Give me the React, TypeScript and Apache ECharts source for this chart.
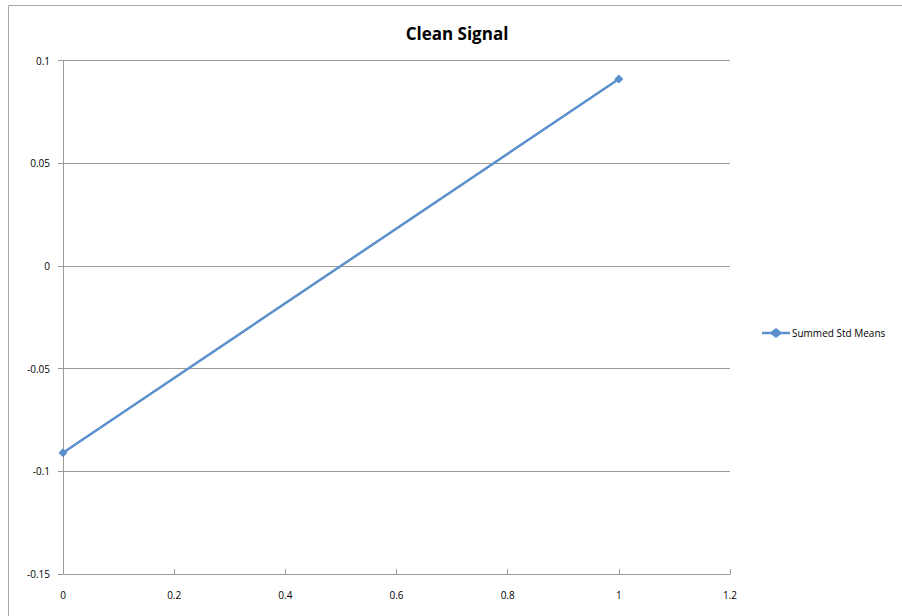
import React, { useEffect, useRef } from "react";
import * as echarts from "echarts";

const seriesName = "Summed Std Means";
const xValues = [0, 1];
const yValues = [-0.091, 0.091];
const titleText = "Clean Signal";

export default function App() {
  const ref = useRef<HTMLDivElement>(null);
  useEffect(() => {
    document.body.style.margin = "0";
    const chart = echarts.init(ref.current!, null, { renderer: "svg" });
    const font = "'Open Sans', 'Liberation Sans', sans-serif";
    const lineColor = "#5b8fcb";
    chart.setOption({
      animation: false,
      backgroundColor: "#ffffff",
      title: {
        text: titleText,
        left: 452,
        top: 20,
        textAlign: "center",
        textStyle: { fontFamily: font, fontSize: 17, fontWeight: "bold", color: "#000" },
      },
      graphic: [
        {
          type: "rect",
          shape: { x: 8.5, y: 5.5, width: 900, height: 620 },
          style: { fill: "none", stroke: "#a6a6a6", lineWidth: 1 },
          silent: true,
        },
      ],
      legend: {
        show: true,
        orient: "vertical",
        left: 757,
        top: 323,
        itemWidth: 28,
        itemHeight: 10,
        textStyle: { fontFamily: font, fontSize: 10, color: "#000", padding: [0, 0, 0, -3] },
        data: [
          {
            name: seriesName,
            icon: "path://M0,3.8 L9,3.8 L14,0 L19,3.8 L28,3.8 L28,6.2 L19,6.2 L14,10 L9,6.2 L0,6.2 Z",
            itemStyle: { color: lineColor },
          },
        ],
      },
      grid: { left: 63, right: 172, top: 60.5, bottom: 42, containLabel: false },
      xAxis: {
        type: "value",
        min: 0,
        max: 1.2,
        interval: 0.2,
        axisLine: { show: true, onZero: false, lineStyle: { color: "#9a9a9a", width: 1 } },
        axisTick: { show: true, inside: true, length: 5, lineStyle: { color: "#9a9a9a" } },
        splitLine: { show: false },
        axisLabel: { fontFamily: font, fontSize: 10, color: "#000", margin: 16 },
      },
      yAxis: {
        type: "value",
        min: -0.15,
        max: 0.1,
        interval: 0.05,
        axisLine: { show: true, onZero: false, lineStyle: { color: "#9a9a9a", width: 1 } },
        axisTick: { show: true, length: 5, lineStyle: { color: "#9a9a9a" } },
        splitLine: { show: true, lineStyle: { color: "#9a9a9a", width: 1 } },
        axisLabel: { fontFamily: font, fontSize: 10, color: "#000", margin: 13 },
      },
      series: [
        {
          name: seriesName,
          type: "line",
          data: xValues.map((x, i) => [x, yValues[i]]),
          symbol: "diamond",
          symbolSize: 9,
          lineStyle: { color: lineColor, width: 2.5 },
          itemStyle: { color: lineColor },
        },
      ],
    });
    return () => chart.dispose();
  }, []);
  return <div ref={ref} style={{ width: 902, height: 616 }} />;
}
